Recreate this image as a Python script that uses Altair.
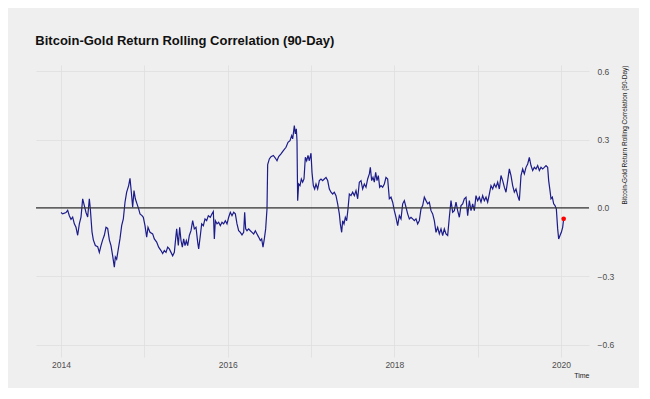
import altair as alt
import pandas as pd

TITLE = "Bitcoin-Gold Return Rolling Correlation (90-Day)"
Y_TITLE = "Bitcoin-Gold Return Rolling Correlation (90-Day)"
X_TITLE = "Time"

# decimal-year time stamps and 90-day rolling correlation values
t_2014 = [2014.00, 2014.02, 2014.06, 2014.08, 2014.10, 2014.12, 2014.14, 2014.16, 2014.18, 2014.20,
          2014.22, 2014.24, 2014.26, 2014.28, 2014.30, 2014.32, 2014.34, 2014.352, 2014.372, 2014.388,
          2014.412, 2014.44, 2014.46, 2014.48, 2014.50, 2014.52, 2014.54, 2014.56, 2014.58, 2014.60,
          2014.62, 2014.64, 2014.652, 2014.668, 2014.688, 2014.708, 2014.728, 2014.748, 2014.768, 2014.788,
          2014.812, 2014.828, 2014.844, 2014.86, 2014.876, 2014.892, 2014.912, 2014.932, 2014.948, 2014.972,
          2014.988]
v_2014 = [-0.02, -0.026, -0.02, -0.01, -0.034, -0.05, -0.04, -0.07, -0.085, -0.12,
          -0.07, -0.04, 0.04, 0.01, -0.02, -0.04, 0.04, -0.005, -0.105, -0.14,
          -0.165, -0.17, -0.195, -0.165, -0.14, -0.12, -0.085, -0.09, -0.14, -0.165,
          -0.21, -0.26, -0.215, -0.225, -0.18, -0.135, -0.078, -0.048, 0.025, 0.069,
          0.098, 0.13, 0.069, 0.003, 0.076, 0.04, 0.018, -0.004, -0.026, -0.034,
          -0.041]

t_2015 = [2015.008, 2015.028, 2015.044, 2015.068, 2015.10, 2015.12, 2015.148, 2015.172, 2015.20, 2015.22,
          2015.24, 2015.26, 2015.28, 2015.30, 2015.32, 2015.34, 2015.36, 2015.372, 2015.388, 2015.408,
          2015.424, 2015.44, 2015.456, 2015.472, 2015.488, 2015.504, 2015.52, 2015.54, 2015.56, 2015.58,
          2015.60, 2015.62, 2015.64, 2015.652, 2015.672, 2015.688, 2015.708, 2015.728, 2015.748, 2015.768,
          2015.792, 2015.812, 2015.828, 2015.84, 2015.852, 2015.872, 2015.892, 2015.912, 2015.932, 2015.952,
          2015.972, 2015.992]
v_2015 = [-0.078, -0.128, -0.085, -0.107, -0.114, -0.136, -0.15, -0.172, -0.187, -0.2,
          -0.187, -0.195, -0.172, -0.18, -0.195, -0.21, -0.195, -0.15, -0.092, -0.165,
          -0.085, -0.143, -0.172, -0.136, -0.165, -0.143, -0.165, -0.121, -0.1, -0.056,
          -0.092, -0.085, -0.15, -0.18, -0.121, -0.07, -0.078, -0.048, -0.056, -0.034,
          -0.041, -0.026, -0.016, -0.136, -0.056, -0.07, -0.063, -0.078, -0.063, -0.07,
          -0.056, -0.07]

t_2016 = [2016.012, 2016.032, 2016.052, 2016.072, 2016.092, 2016.112, 2016.132, 2016.152, 2016.172, 2016.192,
          2016.204, 2016.216, 2016.232, 2016.252, 2016.272, 2016.292, 2016.312, 2016.332, 2016.352, 2016.372,
          2016.392, 2016.408, 2016.424, 2016.44, 2016.456, 2016.472, 2016.48, 2016.50, 2016.52, 2016.548,
          2016.572, 2016.592, 2016.612, 2016.64, 2016.668, 2016.70, 2016.724, 2016.748, 2016.768, 2016.78,
          2016.80, 2016.812, 2016.824, 2016.832, 2016.84, 2016.852, 2016.868, 2016.884, 2016.90, 2016.916,
          2016.932, 2016.948, 2016.964, 2016.98]
v_2016 = [-0.041, -0.019, -0.034, -0.019, -0.026, -0.07, -0.1, -0.107, -0.118, -0.107,
          -0.019, -0.092, -0.1, -0.092, -0.1, -0.107, -0.114, -0.1, -0.114, -0.128,
          -0.143, -0.136, -0.172, -0.136, -0.092, -0.004, 0.19, 0.215, 0.225, 0.23,
          0.219, 0.207, 0.225, 0.237, 0.251, 0.266, 0.288, 0.295, 0.317, 0.303,
          0.361, 0.325, 0.347, 0.295, 0.032, 0.105, 0.098, 0.127, 0.113, 0.127,
          0.222, 0.207, 0.23, 0.207]

t_2017 = [2017.00, 2017.012, 2017.028, 2017.044, 2017.06, 2017.08, 2017.10, 2017.12, 2017.14, 2017.16,
          2017.18, 2017.20, 2017.22, 2017.24, 2017.26, 2017.28, 2017.30, 2017.32, 2017.34, 2017.352,
          2017.368, 2017.38, 2017.396, 2017.412, 2017.428, 2017.444, 2017.46, 2017.48, 2017.50, 2017.52,
          2017.54, 2017.56, 2017.58, 2017.60, 2017.62, 2017.64, 2017.66, 2017.68, 2017.70, 2017.712,
          2017.728, 2017.744, 2017.76, 2017.776, 2017.792, 2017.808, 2017.824, 2017.84, 2017.86, 2017.88,
          2017.90, 2017.92, 2017.94, 2017.96, 2017.98]
v_2017 = [0.24, 0.156, 0.098, 0.083, 0.105, 0.083, 0.12, 0.127, 0.12, 0.127,
          0.134, 0.12, 0.083, 0.069, 0.061, 0.069, 0.054, 0.018, -0.026, -0.07,
          -0.107, -0.056, -0.07, -0.041, -0.056, -0.004, 0.061, 0.054, 0.069, 0.054,
          0.076, 0.04, 0.113, 0.12, 0.083, 0.105, 0.091, 0.127, 0.149, 0.178,
          0.12, 0.134, 0.113, 0.156, 0.12, 0.142, 0.091, 0.098, 0.091, 0.105,
          0.134, 0.127, 0.04, 0.047, 0.025]

t_2018 = [2018.00, 2018.02, 2018.04, 2018.06, 2018.08, 2018.10, 2018.12, 2018.14, 2018.16, 2018.18,
          2018.20, 2018.22, 2018.24, 2018.26, 2018.28, 2018.30, 2018.32, 2018.34, 2018.36, 2018.38,
          2018.40, 2018.42, 2018.44, 2018.46, 2018.48, 2018.50, 2018.52, 2018.54, 2018.56, 2018.58,
          2018.60, 2018.62, 2018.64, 2018.66, 2018.68, 2018.70, 2018.72, 2018.74, 2018.76, 2018.78,
          2018.80, 2018.82, 2018.84, 2018.86, 2018.88, 2018.90, 2018.92, 2018.94, 2018.96, 2018.98]
v_2018 = [-0.012, -0.041, -0.078, -0.034, -0.048, 0.018, 0.032, 0.003, -0.026, -0.048,
          -0.041, -0.048, -0.056, -0.048, -0.07, -0.056, -0.004, 0.01, 0.047, 0.032,
          0.018, 0.025, -0.012, -0.026, -0.056, -0.107, -0.085, -0.114, -0.092, -0.121,
          -0.092, -0.114, -0.121, -0.041, 0.032, -0.019, -0.012, 0.025, -0.012, -0.041,
          0.01, 0.018, 0.04, 0.047, -0.034, 0.032, -0.012, 0.018, -0.012, 0.054]

t_2019 = [2019.00, 2019.02, 2019.04, 2019.06, 2019.08, 2019.10, 2019.12, 2019.14, 2019.16, 2019.18,
          2019.20, 2019.22, 2019.24, 2019.26, 2019.28, 2019.30, 2019.32, 2019.34, 2019.36, 2019.38,
          2019.40, 2019.42, 2019.44, 2019.46, 2019.48, 2019.50, 2019.52, 2019.54, 2019.56, 2019.58,
          2019.60, 2019.62, 2019.64, 2019.66, 2019.68, 2019.70, 2019.72, 2019.74, 2019.76, 2019.78,
          2019.80, 2019.82, 2019.84, 2019.852, 2019.868, 2019.88, 2019.896, 2019.912, 2019.928, 2019.944,
          2019.96, 2019.972, 2019.988, 2020.004, 2020.02, 2020.032]
v_2019 = [0.032, 0.047, 0.025, 0.054, 0.032, 0.047, 0.025, 0.061, 0.098, 0.083,
          0.105, 0.091, 0.113, 0.083, 0.142, 0.12, 0.091, 0.069, 0.12, 0.171,
          0.142, 0.098, 0.069, 0.083, 0.054, 0.032, 0.142, 0.171, 0.149, 0.178,
          0.193, 0.222, 0.186, 0.164, 0.178, 0.171, 0.186, 0.164, 0.178, 0.171,
          0.178, 0.186, 0.178, 0.12, 0.076, 0.04, 0.047, 0.018, 0.01, -0.004,
          -0.092, -0.136, -0.121, -0.107, -0.085, -0.048]

times = t_2014 + t_2015 + t_2016 + t_2017 + t_2018 + t_2019
values = v_2014 + v_2015 + v_2016 + v_2017 + v_2018 + v_2019

year_ticks = [2014, 2015, 2016, 2017, 2018, 2019, 2020]
y_ticks = [-0.6, -0.45, -0.3, -0.15, 0.0, 0.15, 0.3, 0.45, 0.6]
x_domain = [2013.70, 2020.336]
y_domain = [-0.654, 0.627]

df = pd.DataFrame({"Time": times, "corr": values})
last = df.tail(1)
zero = pd.DataFrame({"y": [0.0]})

FONT = "Liberation Sans"
GRID = "#dedede"

x_enc = alt.X(
    "Time:Q",
    scale=alt.Scale(domain=x_domain, nice=False, zero=False),
    axis=alt.Axis(
        title=X_TITLE, values=year_ticks,
        labelExpr="datum.value % 2 == 0 ? datum.value : ''",
        titleAnchor="end", titleFontSize=7, titleFontWeight="normal", titleColor="#222222",
        titlePadding=3, labelFontSize=8.5, labelColor="#4d4d4d", labelPadding=3,
        ticks=False, domain=False, grid=True, gridColor=GRID, gridWidth=0.8,
        labelFont=FONT, titleFont=FONT,
    ),
)
y_enc = alt.Y(
    "corr:Q",
    scale=alt.Scale(domain=y_domain, nice=False, zero=False),
    axis=alt.Axis(
        title=Y_TITLE, orient="right", values=y_ticks,
        labelExpr="round(datum.value * 20) % 6 == 0 ? format(datum.value, '.1f') : ''",
        titleAngle=270, titleAnchor="end", titleFontSize=6.5, titleFontWeight="normal",
        titleColor="#222222", titlePadding=14, labelFontSize=8.5, labelColor="#4d4d4d",
        labelPadding=8, ticks=False, domain=False, grid=True, gridColor=GRID, gridWidth=0.8,
        labelFont=FONT, titleFont=FONT,
    ),
)

line = alt.Chart(df).mark_line(color="#1c1c8a", strokeWidth=1.2).encode(x=x_enc, y=y_enc)
rule = alt.Chart(zero).mark_rule(color="#333333", strokeWidth=1.3).encode(y=alt.Y("y:Q"))
dot = alt.Chart(last).mark_circle(color="red", size=22, opacity=1).encode(x="Time:Q", y="corr:Q")

chart = (
    alt.layer(line, rule, dot)
    .properties(
        width=553, height=292,
        title=alt.TitleParams(TITLE, anchor="start", fontSize=13, fontWeight="bold",
                              color="#111111", font=FONT, offset=17),
        background="#efefef",
        padding={"left": 27, "top": 27, "right": 10, "bottom": 9},
    )
    .configure_view(stroke=None)
)

chart.save("out.html", embed_options={"renderer": "svg", "actions": False})
